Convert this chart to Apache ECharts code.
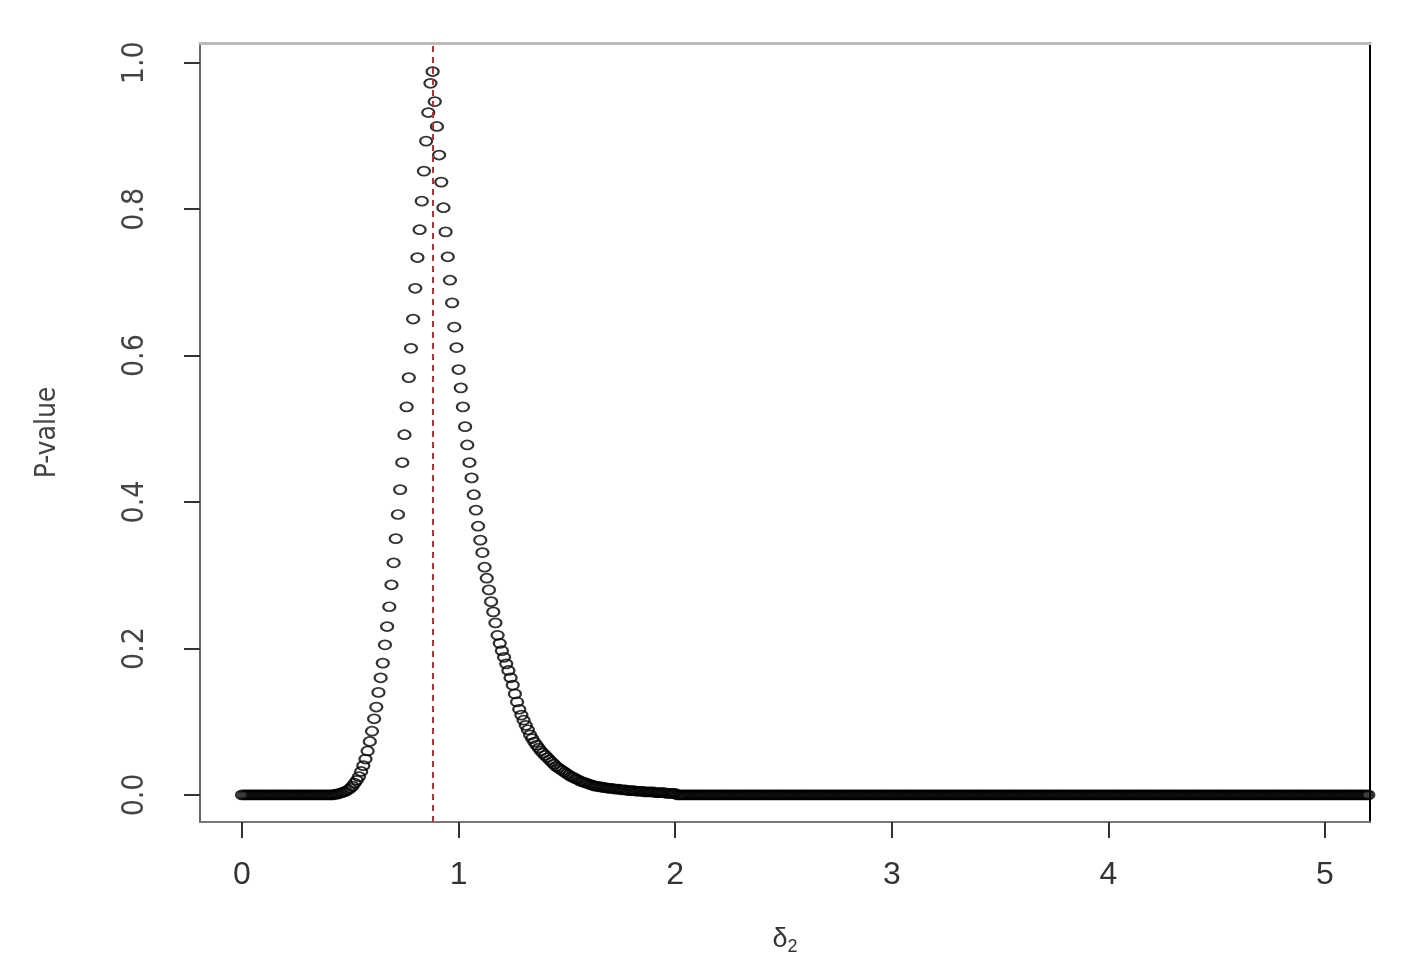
<!DOCTYPE html>
<html>
<head>
<meta charset="utf-8">
<script src="https://cdn.jsdelivr.net/npm/echarts@6/dist/echarts.min.js"></script>
<style>
  html, body { margin: 0; padding: 0; background: #fff; }
  #container { width: 1401px; height: 979px; }
</style>
</head>
<body>
<div id="container"></div>
<script>
var dom = document.getElementById("container");
var myChart = echarts.init(dom);

// delta2 grid: start 0, step 0.01, up to 5.20
var deltaStart = 0;
var deltaStep = 0.01;

// p-values for delta2 = 0.00 .. 0.42
var pFlatLeft = [
  0,0,0,0,0,0,0,0,0,0, 0,0,0,0,0,0,0,0,0,0,
  0,0,0,0,0,0,0,0,0,0, 0,0,0,0,0,0,0,0,0,0,
  0,0,0
];
// p-values for delta2 = 0.43 .. 2.00
var pPeak = [
  0.001,0.001,0.002,0.003,0.004,0.005,0.007,0.009,0.012,0.016,
  0.020,0.025,0.032,0.040,0.049,0.060,0.073,0.087,0.104,0.120,
  0.140,0.160,0.180,0.205,0.230,0.257,0.287,0.317,0.350,0.383,
  0.417,0.454,0.492,0.530,0.570,0.610,0.650,0.692,0.734,0.772,
  0.811,0.852,0.893,0.932,0.972,0.988,0.947,0.913,0.874,0.837,
  0.802,0.769,0.735,0.703,0.672,0.639,0.611,0.581,0.556,0.530,
  0.503,0.478,0.454,0.433,0.410,0.389,0.367,0.348,0.331,0.311,
  0.296,0.280,0.264,0.250,0.235,0.218,0.207,0.197,0.188,0.179,
  0.170,0.160,0.150,0.138,0.127,0.117,0.109,0.102,0.095,0.089,
  0.082,0.077,0.072,0.068,0.064,0.060,0.057,0.054,0.051,0.048,
  0.045,0.042,0.039,0.037,0.035,0.033,0.031,0.029,0.027,0.025,
  0.024,0.022,0.021,0.019,0.018,0.017,0.016,0.015,0.014,0.013,
  0.012,0.012,0.011,0.011,0.010,0.010,0.009,0.009,0.009,0.008,
  0.008,0.008,0.007,0.007,0.007,0.006,0.006,0.006,0.006,0.005,
  0.005,0.005,0.005,0.004,0.004,0.004,0.004,0.004,0.003,0.003,
  0.003,0.003,0.003,0.002,0.002,0.002,0.002,0.002
];
// p-values for delta2 = 2.01 .. 5.20
var pFlatRight = [
  0,0,0,0,0,0,0,0,0,0,0,0,0,0,0,0,0,0,0,0,0,0,0,0,0,0,0,0,0,0,0,0,0,0,0,0,0,0,0,0,
  0,0,0,0,0,0,0,0,0,0,0,0,0,0,0,0,0,0,0,0,0,0,0,0,0,0,0,0,0,0,0,0,0,0,0,0,0,0,0,0,
  0,0,0,0,0,0,0,0,0,0,0,0,0,0,0,0,0,0,0,0,0,0,0,0,0,0,0,0,0,0,0,0,0,0,0,0,0,0,0,0,
  0,0,0,0,0,0,0,0,0,0,0,0,0,0,0,0,0,0,0,0,0,0,0,0,0,0,0,0,0,0,0,0,0,0,0,0,0,0,0,0,
  0,0,0,0,0,0,0,0,0,0,0,0,0,0,0,0,0,0,0,0,0,0,0,0,0,0,0,0,0,0,0,0,0,0,0,0,0,0,0,0,
  0,0,0,0,0,0,0,0,0,0,0,0,0,0,0,0,0,0,0,0,0,0,0,0,0,0,0,0,0,0,0,0,0,0,0,0,0,0,0,0,
  0,0,0,0,0,0,0,0,0,0,0,0,0,0,0,0,0,0,0,0,0,0,0,0,0,0,0,0,0,0,0,0,0,0,0,0,0,0,0,0,
  0,0,0,0,0,0,0,0,0,0,0,0,0,0,0,0,0,0,0,0,0,0,0,0,0,0,0,0,0,0,0,0,0,0,0,0,0,0,0,0
];

var xTicks = [0, 1, 2, 3, 4, 5];
var yTicks = [0, 0.2, 0.4, 0.6, 0.8, 1.0];
var estimate = 0.877; // red dashed line

var pValues = pFlatLeft.concat(pPeak, pFlatRight);
var points = pValues.map(function (p, i) {
  return [+(deltaStart + i * deltaStep).toFixed(2), p];
});

var labelFont = "'Liberation Sans', Arial, sans-serif";
var narrowFont = "'Liberation Sans Narrow', 'DejaVu Sans Condensed', 'Liberation Sans', sans-serif";

option = {
  backgroundColor: "#fff",
  animation: false,
  grid: { left: 200, right: 31, top: 43, bottom: 157, show: false },
  xAxis: [
    {
      type: "value",
      min: -0.194,
      max: 5.208,
      position: "bottom",
      axisLine: { onZero: false, lineStyle: { color: "#777", width: 2 } },
      axisTick: { customValues: xTicks, length: 16, lineStyle: { color: "#333", width: 2 } },
      axisLabel: { customValues: xTicks, fontSize: 32, color: "#333", margin: 37, fontFamily: labelFont },
      splitLine: { show: false },
      name: "{d|δ}{s|2}",
      nameLocation: "middle",
      nameGap: 102,
      nameTextStyle: {
        rich: {
          d: { fontSize: 27, color: "#333", fontFamily: labelFont },
          s: { fontSize: 18, color: "#333", fontFamily: labelFont, padding: [14, 0, 0, 0] }
        }
      }
    },
    {
      type: "value",
      min: -0.194,
      max: 5.208,
      position: "top",
      axisLine: { onZero: false, lineStyle: { color: "#bbb", width: 3 } },
      axisTick: { show: false },
      axisLabel: { show: false },
      splitLine: { show: false }
    }
  ],
  yAxis: [
    {
      type: "value",
      min: -0.037,
      max: 1.027,
      position: "left",
      axisLine: { onZero: false, lineStyle: { color: "#666", width: 2 } },
      axisTick: { customValues: yTicks, length: 16, lineStyle: { color: "#333", width: 2 } },
      axisLabel: {
        customValues: yTicks,
        rotate: 90,
        fontSize: 30,
        color: "#444",
        margin: 50,
        fontFamily: narrowFont,
        formatter: function (v) { return v.toFixed(1); }
      },
      splitLine: { show: false },
      name: "P-value",
      nameLocation: "middle",
      nameRotate: 90,
      nameGap: 138,
      nameTextStyle: { fontSize: 28, color: "#444", fontFamily: narrowFont }
    },
    {
      type: "value",
      min: -0.037,
      max: 1.027,
      position: "right",
      axisLine: { onZero: false, lineStyle: { color: "#000", width: 2 } },
      axisTick: { show: false },
      axisLabel: { show: false },
      splitLine: { show: false }
    }
  ],
  series: [
    {
      name: "P-value",
      type: "scatter",
      xAxisIndex: 0,
      yAxisIndex: 0,
      data: points,
      symbol: "circle",
      symbolSize: [12, 9],
      clip: true,
      itemStyle: { color: "rgba(0,0,0,0)", borderColor: "#000", borderWidth: 2 },
      markLine: {
        silent: true,
        symbol: "none",
        label: { show: false },
        lineStyle: { color: "#b83030", type: [6, 5], width: 2 },
        data: [{ xAxis: estimate }]
      }
    }
  ]
};
if (option && typeof option === "object") {
  myChart.setOption(option, true);
}
</script>
</body>
</html>
